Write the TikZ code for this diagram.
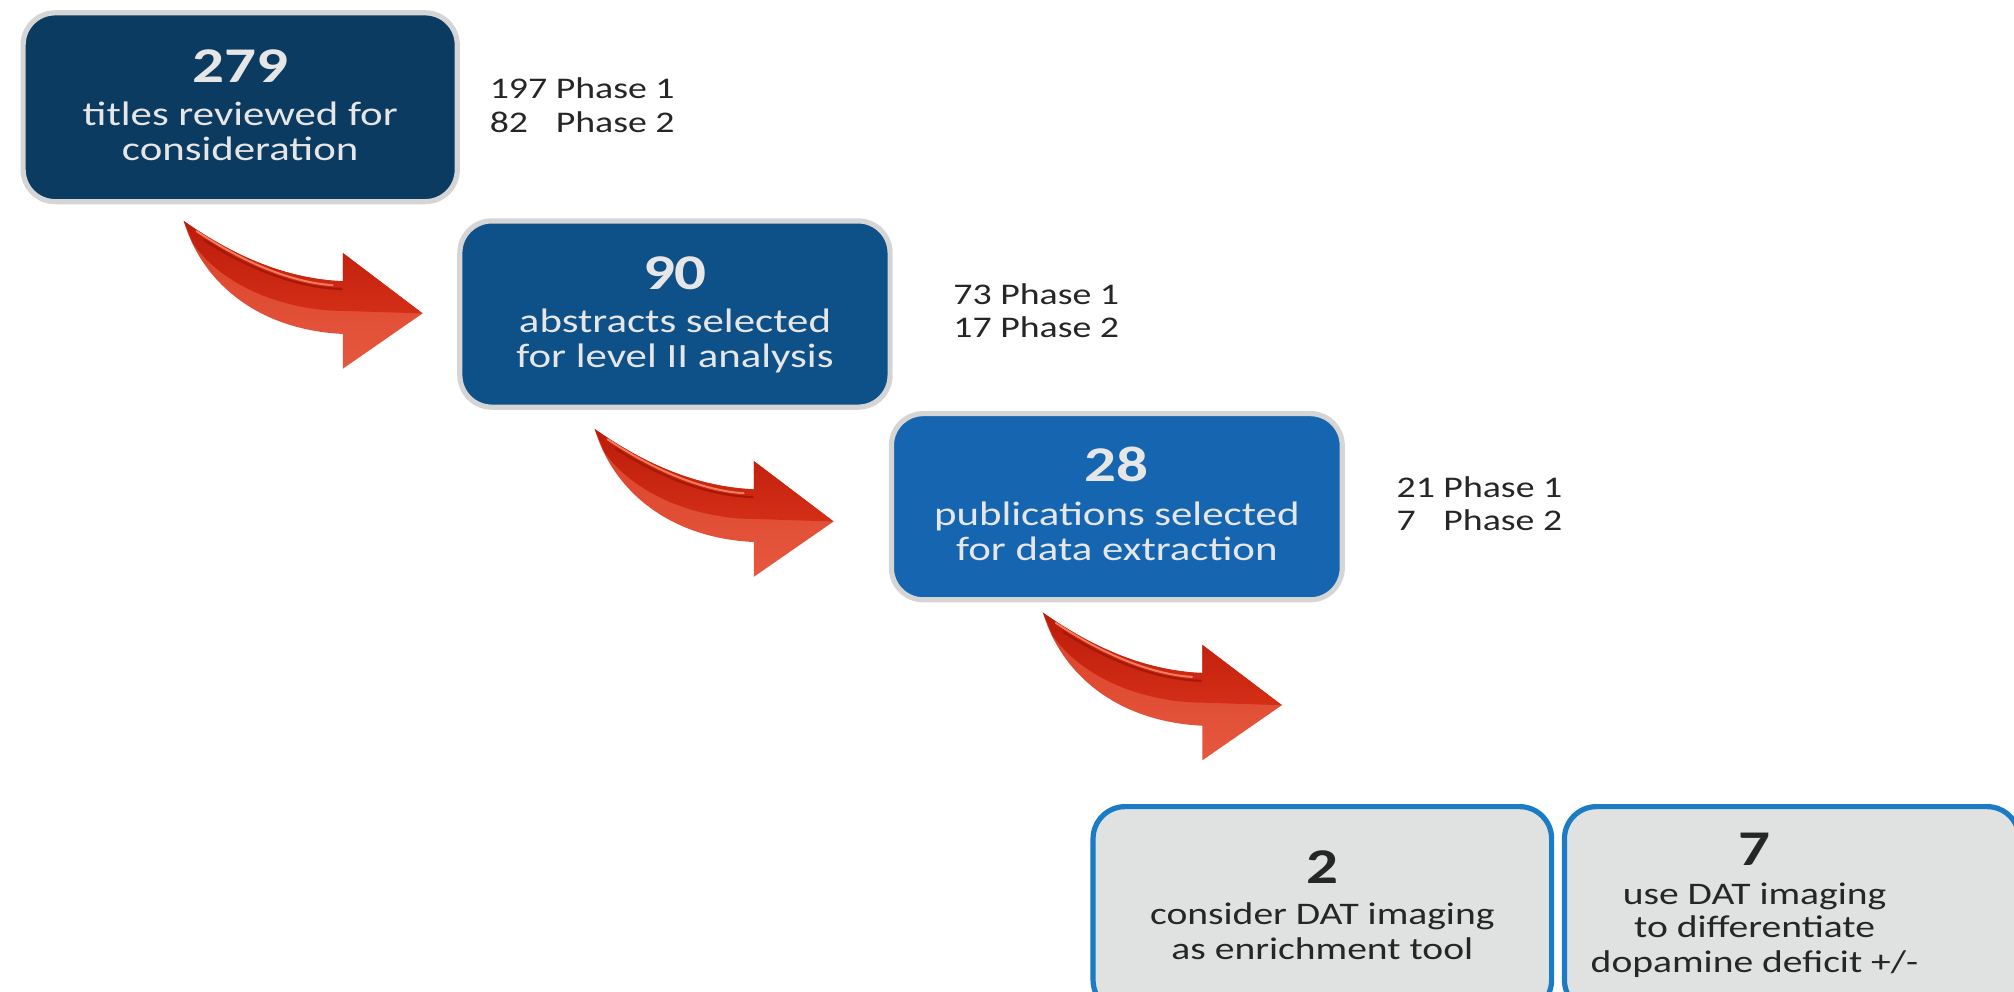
\documentclass[tikz,border=0pt]{standalone}
\usepackage{fontspec}
\usepackage{calc}
\setmainfont{Carlito}[FakeStretch=1.26]

\definecolor{navyA}{HTML}{0B3B60}
\definecolor{navyB}{HTML}{0E5088}
\definecolor{navyC}{HTML}{1565B0}
\definecolor{rimgray}{HTML}{D5D5D5}
\definecolor{paleface}{HTML}{E0E1E1}
\definecolor{rimblue}{HTML}{1C7BC5}
\definecolor{boxtext}{HTML}{E6E6E6}
\definecolor{inktext}{HTML}{262626}
\definecolor{redtop}{HTML}{BA1C0B}
\definecolor{redmid}{HTML}{D42E16}
\definecolor{redlowA}{HTML}{DB4029}
\definecolor{redlowB}{HTML}{E5583F}
\definecolor{redglow}{HTML}{F27C5C}
\definecolor{redshade}{HTML}{A8180A}

\newlength{\pxu}
\setlength{\pxu}{0.6422pt}

\begin{document}
\begin{tikzpicture}[x=0.6422pt, y=-0.6422pt,
  stagebox/.style={rectangle, rounded corners=16pt, draw=rimgray,
    line width=2.6pt, inner sep=0pt, outer sep=0pt},
  outcomebox/.style={rectangle, rounded corners=16pt, draw=rimblue,
    fill=paleface, line width=2.6pt, inner sep=0pt, outer sep=0pt},
  bignum/.style={anchor=base, inner sep=0pt, font=\fontsize{25}{27}\selectfont\bfseries},
  stagetext/.style={anchor=base, inner sep=0pt, text=boxtext,
    font=\fontsize{17}{19}\selectfont},
  outcometext/.style={anchor=base, inner sep=0pt, text=inktext,
    font=\fontsize{15.7}{17}\selectfont},
  countnote/.style={anchor=base west, inner sep=0pt, text=inktext,
    font=\fontsize{15}{17}\selectfont},
  arrowlow/.style={top color=redlowA, bottom color=redlowB},
  arrowhigh/.style={top color=redtop, bottom color=redmid},
]
\useasboundingbox (0,0) rectangle (1568,772);

% bent red arrow, drawn relative to its tail point:
% a light lower band under a deeper red upper part
\newcommand{\bentarrow}[1]{%
  \begin{scope}[shift={#1}]
    \path[arrowlow] (0,0) .. controls (40,28) and (80,45) .. (124,47)
      -- (124,25) -- (186,72) -- (124,115) -- (124,88)
      .. controls (60,85) and (15,50) .. cycle;
    \path[arrowhigh] (0,0) .. controls (40,28) and (80,45) .. (124,47)
      -- (124,25) -- (186,72) -- (122,70)
      .. controls (95,70) and (38,60) .. (7.5,18) -- cycle;
    \draw[redshade, line width=1.1pt, line cap=round]
      (16,15) .. controls (50,37) and (88,52) .. (123,53);
    \draw[redglow, line width=1pt, line cap=round]
      (10,8) .. controls (46,32) and (84,48) .. (116,50);
  \end{scope}}

% stage boxes
\node[stagebox, fill=navyA, minimum width={338*\pxu}, minimum height={147*\pxu}]
  (titles) at (187,83.5) {};
\node[stagebox, fill=navyB, minimum width={335*\pxu}, minimum height={145*\pxu}]
  (abstracts) at (525.5,244.5) {};
\node[stagebox, fill=navyC, minimum width={351*\pxu}, minimum height={145*\pxu}]
  (pubs) at (869.5,394.5) {};

% outcome boxes
\node[outcomebox, minimum width={357*\pxu}, minimum height={160*\pxu}]
  (enrich) at (1029.5,708) {};
\node[outcomebox, minimum width={354*\pxu}, minimum height={160*\pxu}]
  (differ) at (1395,708) {};

% texts in the stage boxes
\node[bignum, text=boxtext] (titlesnum) at (187,64.5) {279};
\node[stagetext] (titlesA) at (187,98) {titles reviewed for};
\node[stagetext] (titlesB) at (187,125) {consideration};

\node[bignum, text=boxtext] (abstractsnum) at (525.5,225.5) {90};
\node[stagetext] (abstractsA) at (525.5,259) {abstracts selected};
\node[stagetext] (abstractsB) at (525.5,286) {for level II analysis};

\node[bignum, text=boxtext] (pubsnum) at (869.5,375) {28};
\node[stagetext] (pubsA) at (869.5,409) {publications selected};
\node[stagetext] (pubsB) at (869.5,436) {for data extraction};

% texts in the outcome boxes
\node[bignum, text=inktext] (enrichnum) at (1029.5,688) {2};
\node[outcometext] (enrichA) at (1029.5,720) {consider DAT imaging};
\node[outcometext] (enrichB) at (1029.5,747) {as enrichment tool};

\node[bignum, text=inktext] (differnum) at (1366,674) {7};
\node[outcometext] (differA) at (1366,704) {use DAT imaging};
\node[outcometext] (differB) at (1366,730) {to differentiate};
\node[outcometext] (differC) at (1366,757) {dopamine deficit +/-};

% phase counts beside the stage boxes
\node[countnote] (titlesP1) at (381,77) {197 Phase 1};
\node[countnote] (titlesP2) at (381,103) {\makebox[\widthof{197 }][l]{82}Phase 2};
\node[countnote] (abstractsP1) at (742,237) {73 Phase 1};
\node[countnote] (abstractsP2) at (742,263) {\makebox[\widthof{73 }][l]{17}Phase 2};
\node[countnote] (pubsP1) at (1087,387) {21 Phase 1};
\node[countnote] (pubsP2) at (1087,413) {\makebox[\widthof{21 }][l]{7}Phase 2};

% arrows between the stages
\bentarrow{(143,172)}
\bentarrow{(463,334)}
\bentarrow{(812,477)}
\end{tikzpicture}
\end{document}
